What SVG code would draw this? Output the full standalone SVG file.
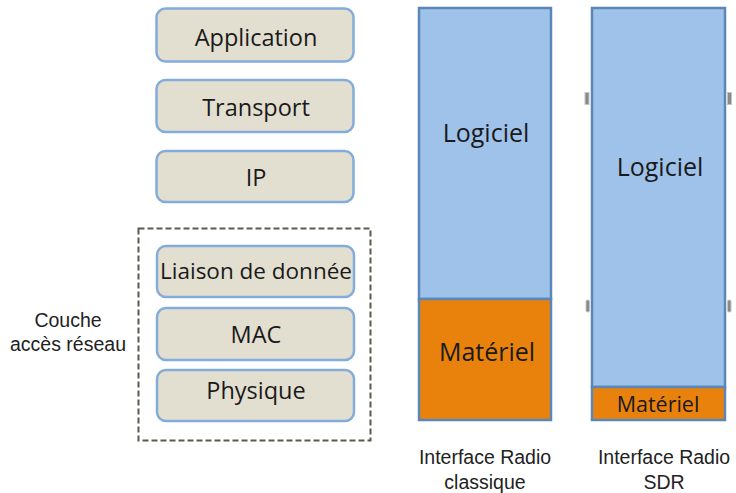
<svg xmlns="http://www.w3.org/2000/svg" width="736" height="493" viewBox="0 0 736 493">
  <style>
    .layer { fill: #E3DFD0; stroke: #84ACDA; stroke-width: 2.5; }
    .lbl { font-family: "Open Sans", "Noto Sans", "DejaVu Sans", sans-serif; fill: #1a1a1a; text-anchor: middle; }
    .cap { font-family: "Liberation Sans", Arial, sans-serif; fill: #222; text-anchor: middle; font-size: 19.5px; }
    .soft { fill: #9FC2EA; stroke: #5B86B8; stroke-width: 2.5; }
    .hard { fill: #E8820C; stroke: #5B86B8; stroke-width: 2.5; }
    .handle { fill: #8a8a8a; stroke: #c4c4c4; stroke-width: 1; }
  </style>

  <!-- Protocol stack -->
  <g id="application">
    <rect class="layer" x="156.5" y="8.5" width="197" height="53" rx="9"/>
    <text class="lbl" x="256" y="46" font-size="23.5">Application</text>
  </g>
  <g id="transport">
    <rect class="layer" x="156.5" y="80" width="197" height="52" rx="9"/>
    <text class="lbl" x="256" y="116" font-size="23.5">Transport</text>
  </g>
  <g id="ip">
    <rect class="layer" x="156.5" y="151" width="197" height="51" rx="9"/>
    <text class="lbl" x="256" y="186" font-size="23.5">IP</text>
  </g>

  <!-- Network access group -->
  <g id="acces-reseau">
    <rect x="138.5" y="228.5" width="232" height="212" fill="none" stroke="#5c5a4c" stroke-width="2" stroke-dasharray="6,3"/>
    <text class="cap" x="68" y="327">Couche</text>
    <text class="cap" x="68" y="351">accès réseau</text>
  </g>
  <g id="liaison">
    <rect class="layer" x="157" y="246" width="197" height="51" rx="9"/>
    <text class="lbl" x="256" y="279" font-size="22.5">Liaison de donnée</text>
  </g>
  <g id="mac">
    <rect class="layer" x="157" y="308" width="197" height="52" rx="9"/>
    <text class="lbl" x="256" y="343" font-size="23.5">MAC</text>
  </g>
  <g id="physique">
    <rect class="layer" x="157" y="370" width="197" height="51" rx="9"/>
    <text class="lbl" x="256" y="399" font-size="23.5">Physique</text>
  </g>

  <!-- Classic radio interface -->
  <g id="radio-classique">
    <rect class="soft" x="419" y="8" width="132" height="291"/>
    <rect class="hard" x="419" y="299" width="132" height="121"/>
    <text class="lbl" x="486" y="142" font-size="25">Logiciel</text>
    <text class="lbl" x="487" y="361" font-size="25">Matériel</text>
    <text class="cap" x="485" y="464">Interface Radio</text>
    <text class="cap" x="485" y="489">classique</text>
  </g>

  <!-- SDR radio interface -->
  <g id="radio-sdr">
    <rect class="soft" x="592" y="8" width="133" height="379"/>
    <rect class="hard" x="592" y="387" width="133" height="33"/>
    <text class="lbl" x="660" y="176" font-size="25">Logiciel</text>
    <text class="lbl" x="658" y="412" font-size="21.5">Matériel</text>
    <text class="cap" x="664" y="464">Interface Radio</text>
    <text class="cap" x="664" y="489">SDR</text>
    <rect class="handle" x="585" y="92.5" width="4" height="12"/>
    <rect class="handle" x="727.5" y="92.5" width="4" height="12"/>
    <rect class="handle" x="586" y="300" width="3.5" height="12" rx="1.5"/>
    <rect class="handle" x="727.5" y="300" width="3.5" height="12" rx="1.5"/>
  </g>

  <g id="connectors"/>
</svg>
